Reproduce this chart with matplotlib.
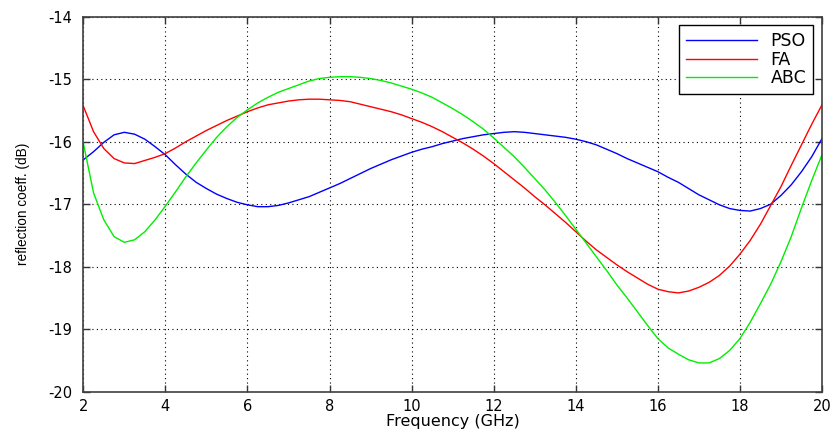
import numpy as np
import matplotlib.pyplot as plt

# Reflection coefficient vs frequency for three optimisers
plt.rcParams['font.family'] = ['DejaVu Sans']
plt.rcParams['axes.unicode_minus'] = False

freq = np.arange(2.0, 20.001, 0.25)

pso = [-16.29, -16.16, -16.01, -15.89, -15.85, -15.88, -15.96, -16.08, -16.21,
       -16.37, -16.52, -16.65, -16.75, -16.84, -16.91, -16.97, -17.01, -17.04,
       -17.04, -17.02, -16.98, -16.93, -16.88, -16.81, -16.74, -16.67, -16.59,
       -16.51, -16.43, -16.36, -16.29, -16.23, -16.17, -16.12, -16.08, -16.03,
       -15.99, -15.95, -15.92, -15.89, -15.87, -15.85, -15.84, -15.85, -15.87,
       -15.89, -15.91, -15.93, -15.96, -16.00, -16.05, -16.12, -16.19, -16.27,
       -16.34, -16.41, -16.48, -16.57, -16.65, -16.75, -16.85, -16.93, -17.01,
       -17.07, -17.10, -17.11, -17.07, -17.00, -16.86, -16.69, -16.48, -16.24,
       -15.95]

fa = [-15.43, -15.84, -16.11, -16.27, -16.34, -16.35, -16.30, -16.25, -16.19,
      -16.10, -16.00, -15.91, -15.82, -15.74, -15.66, -15.59, -15.52, -15.46,
      -15.41, -15.38, -15.35, -15.33, -15.32, -15.32, -15.33, -15.34, -15.36,
      -15.40, -15.44, -15.48, -15.52, -15.57, -15.63, -15.69, -15.76, -15.84,
      -15.93, -16.02, -16.12, -16.23, -16.35, -16.48, -16.61, -16.74, -16.88,
      -17.01, -17.15, -17.29, -17.44, -17.59, -17.73, -17.85, -17.97, -18.08,
      -18.18, -18.28, -18.36, -18.40, -18.42, -18.39, -18.33, -18.25, -18.14,
      -17.99, -17.80, -17.58, -17.32, -17.02, -16.72, -16.38, -16.05, -15.72,
      -15.41]

abc = [-16.02, -16.82, -17.25, -17.52, -17.61, -17.57, -17.44, -17.25, -17.03,
       -16.80, -16.56, -16.34, -16.13, -15.93, -15.76, -15.61, -15.49, -15.38,
       -15.29, -15.21, -15.15, -15.09, -15.03, -14.99, -14.97, -14.96, -14.96,
       -14.97, -14.99, -15.02, -15.06, -15.11, -15.16, -15.22, -15.29, -15.38,
       -15.47, -15.57, -15.68, -15.80, -15.94, -16.09, -16.24, -16.41, -16.59,
       -16.77, -16.97, -17.18, -17.40, -17.62, -17.84, -18.06, -18.29, -18.50,
       -18.72, -18.94, -19.15, -19.30, -19.40, -19.49, -19.54, -19.54, -19.47,
       -19.34, -19.15, -18.89, -18.59, -18.28, -17.92, -17.52, -17.06, -16.62,
       -16.21]

x_ticks = [2, 4, 6, 8, 10, 12, 14, 16, 18, 20]
y_ticks = [-20, -19, -18, -17, -16, -15, -14]

fig = plt.figure(figsize=(8.33, 4.37), dpi=100)
ax = fig.add_axes([0.1, 0.1037, 0.8868, 0.8581])

ax.plot(freq, pso, color='#0000ff', linewidth=1.0, label='PSO')
ax.plot(freq, fa, color='#ff0000', linewidth=1.0, label='FA')
ax.plot(freq, abc, color='#00ee00', linewidth=1.0, label='ABC')

ax.set_xlim(2, 20)
ax.set_ylim(-20, -14)
ax.set_xticks(x_ticks)
ax.set_yticks(y_ticks)
ax.tick_params(direction='in', top=True, right=True, length=5, width=1,
               labelsize=10.5, colors='#333333', labelcolor='black')
ax.tick_params(axis='x', pad=5)
ax.tick_params(axis='y', pad=8)
for s in ax.spines.values():
    s.set_color('#404040')
    s.set_linewidth(1.2)

ax.grid(True, color='black', linestyle=(0, (1, 3)), linewidth=0.8)

ax.set_xlabel('Frequency (GHz)', fontsize=11.5, labelpad=0)
ax.set_ylabel('reflection coeff. (dB)', fontsize=9.8,
              family=['Liberation Sans', 'DejaVu Sans'], labelpad=13)

leg = ax.legend(loc='upper right', fontsize=12.5, handlelength=4.1,
                handletextpad=0.8, borderpad=0.4, labelspacing=0.02,
                fancybox=False, framealpha=1, borderaxespad=0.5)
leg.get_frame().set_edgecolor('black')
leg.get_frame().set_linewidth(1.0)

fig.savefig('out.png', dpi=100)
